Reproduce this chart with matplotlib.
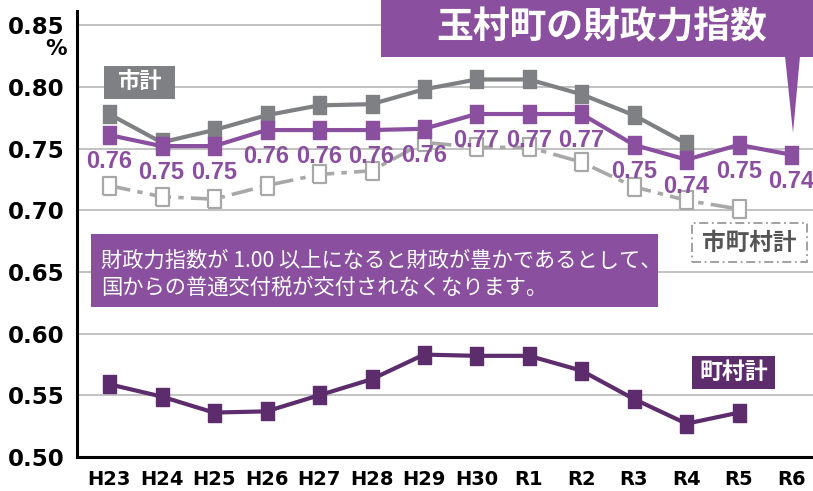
import matplotlib
matplotlib.use('Agg')
import matplotlib.pyplot as plt
from matplotlib.patches import Rectangle, Polygon

plt.rcParams['font.family'] = ['DejaVu Sans', 'Noto Sans CJK JP']

years = ['H23', 'H24', 'H25', 'H26', 'H27', 'H28', 'H29', 'H30',
         'R1', 'R2', 'R3', 'R4', 'R5', 'R6']
# 玉村町
tamamura = [0.761, 0.752, 0.752, 0.765, 0.765, 0.765, 0.766, 0.778,
            0.778, 0.778, 0.753, 0.741, 0.753, 0.745]
tamamura_labels = ['0.76', '0.75', '0.75', '0.76', '0.76', '0.76', '0.76',
                   '0.77', '0.77', '0.77', '0.75', '0.74', '0.75', '0.74']
# 市計 (H23-R4)
shi = [0.778, 0.755, 0.765, 0.777, 0.785, 0.786, 0.798, 0.806,
       0.806, 0.794, 0.777, 0.754]
# 市町村計 (H23-R5)
shichoson = [0.720, 0.711, 0.709, 0.720, 0.729, 0.732, 0.755, 0.751,
             0.751, 0.739, 0.719, 0.708, 0.701]
# 町村計 (H23-R5)
chouson = [0.559, 0.549, 0.536, 0.537, 0.550, 0.563, 0.583, 0.582,
           0.582, 0.570, 0.547, 0.527, 0.536]
yticks = [0.50, 0.55, 0.60, 0.65, 0.70, 0.75, 0.80, 0.85]

purple = '#8a4f9e'
dark_purple = '#5d2c6c'
gray = '#7f8084'
light_gray = '#a8a8a8'

W, H = 813, 491
fig = plt.figure(figsize=(W / 100, H / 100), dpi=100)
ax = fig.add_axes([77 / W, 1 - 457 / H, 1 - 77 / W, (457 - 11) / H])

# tall rectangle marker
rect = [(-0.36, -0.5), (0.36, -0.5), (0.36, 0.5), (-0.36, 0.5), (-0.36, -0.5)]
x = list(range(len(years)))

ax.plot(x[:len(shichoson)], shichoson, color=light_gray, lw=2.6,
        dashes=(6, 2, 1.5, 2), marker=rect, ms=13, mfc='white',
        mec=light_gray, mew=1.6, zorder=3)
ax.plot(x[:len(shi)], shi, color=gray, lw=3, marker=rect, ms=13,
        mfc=gray, mec=gray, zorder=4)
ax.plot(x, tamamura, color=purple, lw=3, marker=rect, ms=13,
        mfc=purple, mec=purple, zorder=5)
ax.plot(x[:len(chouson)], chouson, color=dark_purple, lw=3, marker=rect,
        ms=13, mfc=dark_purple, mec=dark_purple, zorder=5)

for xi, v, lab in zip(x, tamamura, tamamura_labels):
    ax.annotate(lab, (xi, v), xytext=(0, -19), textcoords='offset points',
                ha='center', va='center', fontsize=17, fontweight='bold',
                color=purple, zorder=6,
                family=['Liberation Sans', 'DejaVu Sans'])

ax.set_xlim(-0.61, 13.41)
ax.set_ylim(0.5, 0.8615)
ax.set_xticks(x)
ax.set_xticklabels(years, fontsize=14, fontweight='bold')
ax.set_yticks(yticks)
ax.set_yticklabels(['%.2f' % t for t in yticks], fontsize=16.5,
                   fontweight='bold')
ax.tick_params(axis='both', length=0)
ax.tick_params(axis='y', pad=9)
ax.tick_params(axis='x', pad=9.5)
ax.yaxis.grid(True, color='#bdbdbd', lw=1.3)
ax.set_axisbelow(True)
for s in ['top', 'right']:
    ax.spines[s].set_visible(False)
ax.spines['left'].set_linewidth(2.2)
ax.spines['bottom'].set_linewidth(2.2)


# boxes placed in pixel coordinates (from top-left)
def box(x0, y0, x1, y1, fc, ec='none', ls='-', lw=0):
    fig.add_artist(Rectangle((x0 / W, 1 - y1 / H), (x1 - x0) / W,
                             (y1 - y0) / H, transform=fig.transFigure,
                             fc=fc, ec=ec, ls=ls, lw=lw, zorder=10))


def label(xc, yc, s, size, color, weight='bold', ha='center'):
    fig.text(xc / W, 1 - yc / H, s, fontsize=size, color=color,
             fontweight=weight, ha=ha, va='center', zorder=11,
             family=['Noto Sans CJK JP', 'DejaVu Sans'])


fig.text(56 / W, 1 - 49 / H, '%', fontsize=15.5, fontweight='bold',
         ha='center', va='center')

# title with pointer
box(381, 0, 813, 57, purple)
fig.add_artist(Polygon([(785 / W, 1 - 56 / H), (800 / W, 1 - 56 / H),
                        (793 / W, 1 - 133 / H)], closed=True,
                       transform=fig.transFigure, fc=purple, ec='none',
                       zorder=10))
label(602, 28, '玉村町の財政力指数', 26.5, 'white')

box(104, 66, 175, 99, gray)
label(139.5, 82, '市計', 16, 'white')

box(692, 223, 807, 262, 'white', ec='#9a9a9a', ls=(0, (5, 2, 1, 2)), lw=1.3)
label(749.5, 243, '市町村計', 17, '#555555')

box(692, 356, 775, 389, dark_purple)
label(733.5, 372, '町村計', 16.5, 'white')

box(91, 234, 658, 307, purple)
label(101, 261, '財政力指数が 1.00 以上になると財政が豊かであるとして、', 15.3,
      'white', weight='normal', ha='left')
label(101, 288, '国からの普通交付税が交付されなくなります。', 15.3,
      'white', weight='normal', ha='left')

fig.savefig('out.png', dpi=100)
